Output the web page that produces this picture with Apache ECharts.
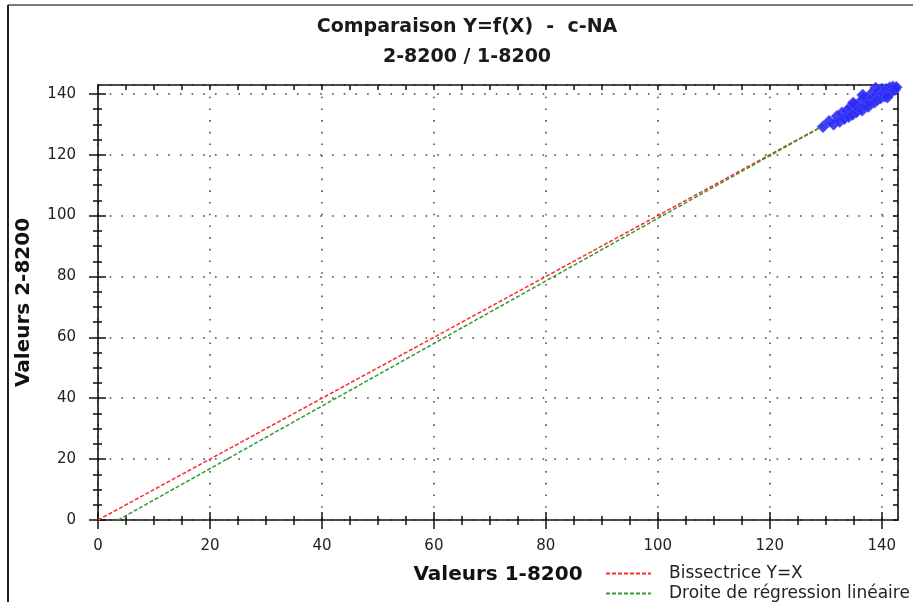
<!DOCTYPE html>
<html>
<head>
<meta charset="utf-8">
<script src="https://cdn.jsdelivr.net/npm/echarts@6/dist/echarts.min.js"></script>
<style>
html,body{margin:0;padding:0;background:#fff;}
#chart{width:913px;height:602px;}
</style>
</head>
<body>
<div id="chart"></div>
<script>
// ---- data ----
const titleLine1 = 'Comparaison Y=f(X)  -  c-NA';
const titleLine2 = '2-8200 / 1-8200';
const xAxisName = 'Valeurs 1-8200';
const yAxisName = 'Valeurs 2-8200';
const majorTicks = [0, 20, 40, 60, 80, 100, 120, 140];
const minorTicks = [5, 10, 15, 25, 30, 35, 45, 50, 55, 65, 70, 75, 85, 90, 95, 105, 110, 115, 125, 130, 135];
const allTicks = [0, 5, 10, 15, 20, 25, 30, 35, 40, 45, 50, 55, 60, 65, 70, 75, 80, 85, 90, 95, 100, 105, 110, 115, 120, 125, 130, 135, 140];
const axisMin = 0;
const axisMax = 142.9;

const bisectName = 'Bissectrice Y=X';
const bisectX = [0, 142.5];
const bisectY = [0, 142.5];

const regName = 'Droite de régression linéaire';
const regX = [3.6, 142.5];
const regY = [0, 142.8];

const pointsX = [129.5, 130.6, 131.4, 132.0, 132.5, 132.9, 133.3, 133.8, 134.1, 134.4, 134.8, 135.2, 135.5, 135.9, 136.2, 136.5, 136.8, 137.0, 137.3, 137.6, 137.9, 138.1, 138.4, 138.7, 139.0, 139.2, 139.5, 139.8, 140.0, 140.3, 140.5, 140.8, 141.1, 141.4, 141.7, 142.0, 142.3, 142.6, 134.9, 136.6, 138.9, 141.0];
const pointsY = [129.2, 131.0, 130.0, 132.6, 130.9, 133.8, 131.8, 134.5, 132.5, 135.6, 133.2, 136.4, 134.0, 135.2, 137.5, 134.6, 138.4, 136.0, 138.0, 135.8, 137.0, 140.0, 138.7, 137.2, 139.8, 138.0, 140.4, 138.6, 141.6, 140.0, 139.2, 141.5, 140.2, 142.0, 140.6, 142.3, 141.3, 142.2, 137.0, 139.6, 141.9, 138.9];

// ---- chart ----
const FONT = 'DejaVu Sans';
const black = '#111';
const chart = echarts.init(document.getElementById('chart'), null, {renderer: 'canvas'});

function zip(a, b) { return a.map((v, i) => [v, b[i]]); }

function tickAxis(pos, offset, values, len, inside, showLine) {
  return {
    type: 'value', position: pos, offset: offset, min: axisMin, max: axisMax, interval: 20,
    axisLine: {show: showLine, onZero: false, lineStyle: {color: black, width: 1.6}},
    axisTick: {show: true, inside: inside, length: len, customValues: values, lineStyle: {color: black, width: 1.5}},
    axisLabel: {show: false},
    splitLine: {show: false}
  };
}

const dotted = {color: '#444', width: 1.5, type: [1.6, 10.1]};

const option = {
  backgroundColor: '#fff',
  animation: false,
  title: {
    text: titleLine1,
    subtext: titleLine2,
    left: 462, top: 10, textAlign: 'center', itemGap: 6,
    textStyle: {fontFamily: FONT, fontWeight: 'bold', fontSize: 19, color: '#1a1a1a', lineHeight: 24},
    subtextStyle: {fontFamily: FONT, fontWeight: 'bold', fontSize: 19, color: '#1a1a1a', lineHeight: 24}
  },
  legend: {
    orient: 'vertical', left: 605, top: 565, height: 80, padding: 0,
    itemWidth: 45, itemHeight: 10, itemGap: 3,
    data: [bisectName, regName],
    itemStyle: {opacity: 0},
    textStyle: {fontFamily: FONT, fontSize: 17, color: '#222', padding: [0, 0, 0, 13]}
  },
  grid: {left: 98, right: 15, top: 85, bottom: 82, containLabel: false},
  xAxis: [
    {
      type: 'value', position: 'bottom', min: axisMin, max: axisMax, interval: 20,
      name: xAxisName, nameLocation: 'middle', nameGap: 45,
      nameTextStyle: {fontFamily: FONT, fontWeight: 'bold', fontSize: 20, color: '#111'},
      axisLine: {show: true, onZero: false, lineStyle: {color: black, width: 1.6}},
      axisTick: {show: false},
      axisLabel: {show: true, customValues: majorTicks, margin: 19, fontFamily: FONT, fontSize: 15, color: '#222'},
      splitLine: {show: true, lineStyle: dotted}
    },
    tickAxis('bottom', -8, majorTicks, 17, false, false),
    tickAxis('bottom', -4, minorTicks, 9, false, false),
    tickAxis('top', 0, allTicks, 5, true, true)
  ],
  yAxis: [
    {
      type: 'value', position: 'left', min: axisMin, max: axisMax, interval: 20,
      name: yAxisName, nameLocation: 'middle', nameGap: 64, nameRotate: 90,
      nameTextStyle: {fontFamily: FONT, fontWeight: 'bold', fontSize: 20, color: '#111'},
      axisLine: {show: true, onZero: false, lineStyle: {color: black, width: 1.6}},
      axisTick: {show: false},
      axisLabel: {show: true, customValues: majorTicks, margin: 22, fontFamily: FONT, fontSize: 15, color: '#222'},
      splitLine: {show: true, lineStyle: dotted}
    },
    tickAxis('left', -8, majorTicks, 17, false, false),
    tickAxis('left', -4, minorTicks, 9, false, false),
    tickAxis('right', 0, allTicks, 5, true, true)
  ],
  graphic: [
    {type: 'line', shape: {x1: 8, y1: 5, x2: 913, y2: 5}, style: {stroke: '#7a7a7a', lineWidth: 2}, silent: true},
    {type: 'line', shape: {x1: 8, y1: 5, x2: 8, y2: 602}, style: {stroke: '#222', lineWidth: 2}, silent: true}
  ],
  series: [
    {
      name: bisectName, type: 'line', data: zip(bisectX, bisectY), symbol: 'none', z: 3,
      itemStyle: {color: '#ff2a2a'},
      lineStyle: {color: '#ff2a2a', width: 1.5, type: [4, 2]}
    },
    {
      name: regName, type: 'line', data: zip(regX, regY), symbol: 'none', z: 3,
      itemStyle: {color: '#2f9a2f'},
      lineStyle: {color: '#2f9a2f', width: 1.5, type: [4, 2]}
    },
    {
      name: 'Points', type: 'scatter', data: zip(pointsX, pointsY), symbol: 'diamond', symbolSize: 12, z: 5,
      itemStyle: {color: '#2b2bf6', opacity: 0.9, borderColor: '#5a5aff', borderWidth: 0.6}
    }
  ]
};
chart.setOption(option);
</script>
</body>
</html>
